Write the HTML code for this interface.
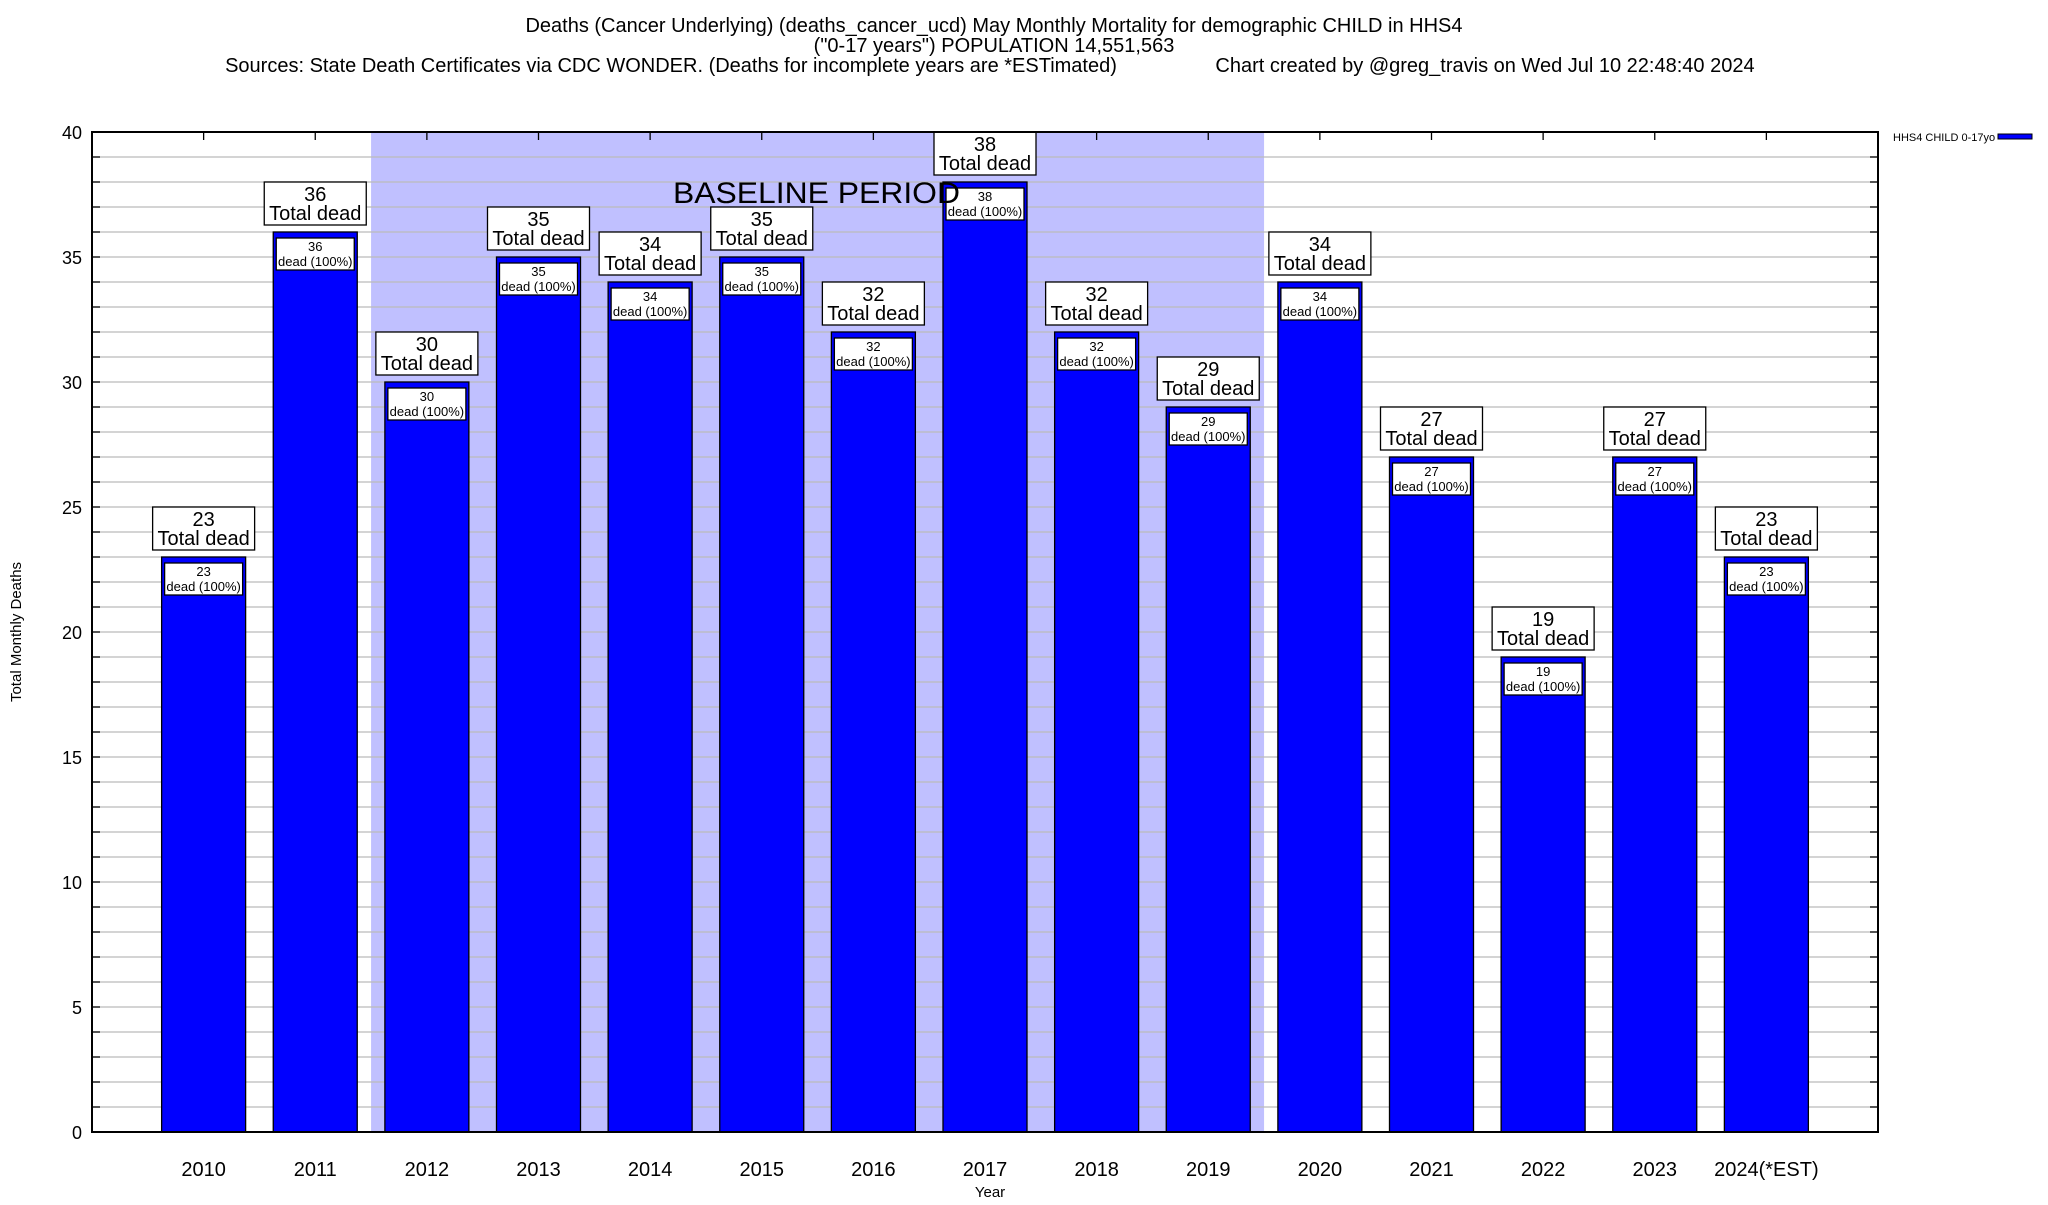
<!DOCTYPE html>
<html><head><meta charset="utf-8"><style>
body{margin:0;background:#fff}
svg text{font-family:"Liberation Sans",Arial,sans-serif;fill:#000}
</style></head><body>
<svg id="chart" width="2048" height="1200" viewBox="0 0 2048 1200" xmlns="http://www.w3.org/2000/svg">
<g>
<text x="994" y="32" font-size="20" text-anchor="middle">Deaths (Cancer Underlying) (deaths_cancer_ucd) May Monthly Mortality for demographic CHILD in HHS4</text>
<text x="994" y="52" font-size="20" text-anchor="middle">("0-17 years") POPULATION 14,551,563</text>
<text x="671" y="72" font-size="20" text-anchor="middle">Sources: State Death Certificates via CDC WONDER. (Deaths for incomplete years are *ESTimated)</text>
<text x="1485" y="72" font-size="20" text-anchor="middle">Chart created by @greg_travis on Wed Jul 10 22:48:40 2024</text>
</g>
<g id="plot"></g>
<text x="21" y="632" font-size="15" text-anchor="middle" transform="rotate(-90 21 632)">Total Monthly Deaths</text>
<text x="990" y="1197" font-size="15" text-anchor="middle">Year</text>
<g>
<text x="1893" y="141" font-size="11">HHS4 CHILD 0-17yo</text>
<rect x="1998" y="134" width="34" height="5" fill="#0000ff" stroke="#000" stroke-width="1"/>
</g>
</svg>
<script>
const categories=["2010","2011","2012","2013","2014","2015","2016","2017","2018","2019","2020","2021","2022","2023","2024(*EST)"];
const values=[23,36,30,35,34,35,32,38,32,29,34,27,19,27,23];
const yTicks=[0,5,10,15,20,25,30,35,40];
const baselineStart=2, baselineEnd=9;
const L=92,R=1878,T=132,B=1132,yMax=40;
const step=(R-L)/(categories.length+1);
const xc=i=>L+(i+1)*step;
const y=v=>B-(v/yMax)*(B-T);
const NS="http://www.w3.org/2000/svg";
const g=document.getElementById('plot');
function mk(tag,attrs,parent){const e=document.createElementNS(NS,tag);for(const k in attrs)e.setAttribute(k,attrs[k]);(parent||g).appendChild(e);return e;}
let sh=mk('rect',{x:xc(baselineStart)-step/2,y:T,width:(baselineEnd-baselineStart+1)*step,height:B-T,fill:'#c0c0ff'});


for(let v=1;v<yMax;v++){
 let ln=mk('line',{x1:L,x2:R,y1:y(v),y2:y(v),stroke:'#bbbbbb','stroke-width':1.3});
 
 
 mk('line',{x1:L,x2:L+8,y1:y(v),y2:y(v),stroke:'#000','stroke-width':1.3});
 mk('line',{x1:R-8,x2:R,y1:y(v),y2:y(v),stroke:'#000','stroke-width':1.3});
}
yTicks.forEach(v=>{
 let t=mk('text',{x:82,y:y(v)+7,'font-size':18,'text-anchor':'end'});
 t.textContent=v;
 
 
});
categories.forEach((c,i)=>{
 const cx=xc(i),v=values[i],top=y(v);
 mk('line',{x1:cx,x2:cx,y1:T,y2:T+8,stroke:'#000','stroke-width':1.3});
 let b=mk('rect',{x:cx-42,y:top,width:84,height:B-top,fill:'#0000ff',stroke:'#000','stroke-width':1.3});
 
 
 let ib=mk('rect',{x:cx-39,y:top+6,width:78,height:32,fill:'#fff',stroke:'#000','stroke-width':1.3});
 
 
 let t1=mk('text',{x:cx,y:top+19,'font-size':13,'text-anchor':'middle'});t1.textContent=v;
 let t2=mk('text',{x:cx,y:top+34,'font-size':13,'text-anchor':'middle'});t2.textContent='dead (100%)';
 let ob=mk('rect',{x:cx-51,y:top-50,width:102,height:43,fill:'#fff',stroke:'#000','stroke-width':1.3});
 
 
 let t3=mk('text',{x:cx,y:top-31,'font-size':20,'text-anchor':'middle'});t3.textContent=v;
 let t4=mk('text',{x:cx,y:top-12,'font-size':20,'text-anchor':'middle'});t4.textContent='Total dead';
 let xl=mk('text',{x:cx,y:1176,'font-size':20,'text-anchor':'middle'});xl.textContent=c;
 
 
});
let bt=mk('text',{x:673,y:203,'font-size':30,textLength:287,lengthAdjust:'spacingAndGlyphs'});
bt.textContent='BASELINE PERIOD';


let fr=mk('rect',{x:L,y:T,width:R-L,height:B-T,fill:'none',stroke:'#000','stroke-width':2});


</script>
</body></html>
